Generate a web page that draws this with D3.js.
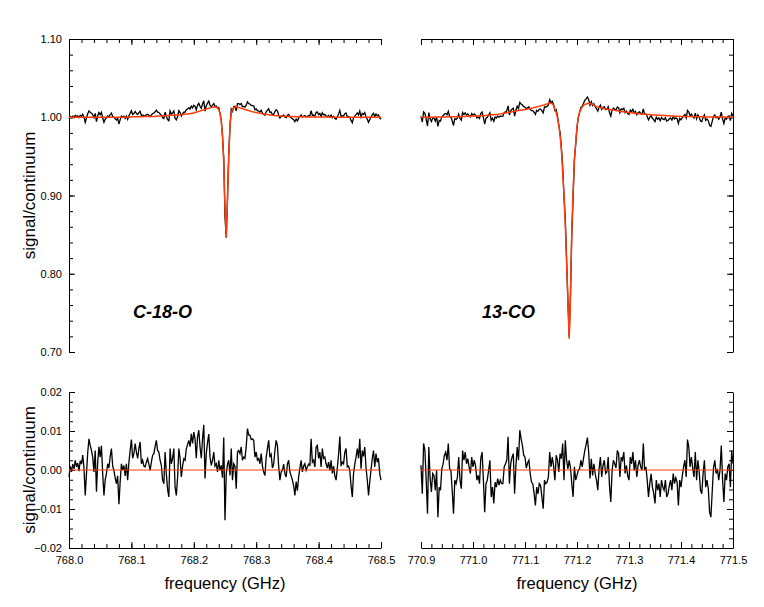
<!DOCTYPE html>
<html><head><meta charset="utf-8">
<script src="https://cdn.jsdelivr.net/npm/d3@7"></script>
<style>
body{margin:0;background:#fff}
svg{display:block}
text{font-family:"Liberation Sans",Arial,Helvetica,sans-serif;fill:#000}
</style>
</head><body>
<svg id="c" width="764" height="607"></svg>
<script>
// ---------------- DATA ----------------
// Channel grids (uniform spectrometer channels)
const leftStart = 768.000, leftStep = 0.002, leftCount = 251;
const rightStart = 770.900, rightStep = 0.0025, rightCount = 241;

// Fitted model (signal/continuum), one value per channel — C-18-O panel
const modelLeft = [
1,1,1,1,1,1,1,1,1,1, 1,1,1,1,1,1,1,1,1,1, 1,1,1,1,1,1,1,1,1,1, 1,1,1,1,1,1,1,1,1,1, 1,1,1,1,1,1,1,1,1,1,
1.0005,1.0005,1.0005,1.0005,1.0005,1.0005,1.0005,1.0005,1.0005,1.0005,
1.001,1.001,1.001,1.001,1.001,1.001,1.001,1.001,1.001,1.001,
1.0015,1.0015,1.0015,1.0015,1.0015, 1.002,1.002,1.002,1.002,1.002,
1.0025,1.0025,1.0025,1.0025,1.0025, 1.003,1.003,1.003,1.003,1.003,
1.0035,1.0035,1.0035, 1.004,1.004,1.004, 1.0045,1.0045, 1.005,1.005,
1.0055,1.006,1.0065,1.007,1.0075,1.008,1.0085,1.009,1.0095,1.010,
1.0105,1.011,1.0115,1.012,1.0123,1.0127,1.013,1.013,1.0128,1.012,
1.010,1.005,0.995,0.977,0.940,0.885,0.847,0.895,0.950,0.990,
1.005,1.010,1.012,1.013,1.013,1.0128,1.0125,1.012,1.0115,1.011,
1.0105,1.010,1.0095,1.009,1.0085,1.008,1.0075,1.007,1.0067,1.0063,
1.006,1.0057,1.0053,1.005,1.0047,1.0045,1.0042,1.004,1.0037,1.0035,
1.0032,1.003,1.0028,1.0026,1.0024,1.0022,1.002,1.0019,1.0018,1.0017,
1.0016,1.0015,1.0014,1.0013,1.0012,1.0011,1.001,1.001,1.0009,1.0009,
1.0008,1.0008,1.0007,1.0007,1.0006,1.0005,1.0005,1.0005,1.0005,1.0005,
1.0004,1.0004,1.0004,1.0004,1.0004,1.0003,1.0003,1.0003,1.0003,1.0003,
1.0002,1.0002,1.0002,1.0002,1.0002,1.0002,1.0002,1.0002,1.0002,1.0002,
1.0001,1.0001,1.0001,1.0001,1.0001,1.0001,1.0001,1.0001,1.0001,1.0001,
1,1,1,1,1,1,1,1,1,1, 1,1,1,1,1,1,1,1,1,1, 1,1,1,1,1,1,1,1,1,1, 1
];

// Fitted model — 13-CO panel
const modelRight = [
1,1,1,1,1,1,1,1,1,1,
1.0003,1.0003,1.0003,1.0003,1.0003,1.0003,1.0003,1.0003,1.0003,1.0003,
1.0007,1.0007,1.0007,1.0007,1.0007,1.0007,1.0007,1.0007,1.0007,1.0007,
1.001,1.001,1.001,1.001,1.001, 1.0013,1.0013,1.0013,1.0013,1.0013,
1.0017,1.0017,1.0017,1.0017,1.0017, 1.002,1.002,1.002,1.002,1.002,
1.0024,1.0026,1.0028,1.003,1.0031,1.0032,1.0033,1.0034,1.0035,1.0038,
1.004,1.0043,1.0046,1.0049,1.0052,1.0055,1.0058,1.0061,1.0064,1.0067,
1.007,1.0073,1.0076,1.0079,1.0082,1.0085,1.0088,1.009,1.0093,1.0096,
1.0098,1.010,1.0104,1.0108,1.0112,1.0116,1.012,1.0124,1.0128,1.0132,
1.0136,1.014,1.0145,1.015,1.0155,1.016,1.0165,1.017,1.0175,1.0178,
1.018,1.017,1.015,1.011,1.006,0.999,0.990,0.976,0.958,0.930,
0.900,0.862,0.815,0.765,0.717,0.775,0.855,0.905,0.945,0.968,
0.988,1.000,1.006,1.010,1.013,1.015,1.0165,1.017,1.0175,1.0178,
1.0175,1.017,1.0163,1.0155,1.0145,1.0135,1.013,1.0126,1.0122,1.0118,
1.0114,1.011,1.0108,1.0105,1.0102,1.010,1.0097,1.0094,1.0091,1.0088,
1.0085,1.0082,1.0079,1.0076,1.0074,1.0071,1.0069,1.0067,1.0065,1.0063,
1.0061,1.0059,1.0057,1.0055,1.0053,1.0051,1.0049,1.0047,1.0045,1.0043,
1.0041,1.004,1.0039,1.0037,1.0036,1.0035,1.0034,1.0033,1.0031,1.003,
1.0029,1.0028,1.0027,1.0026,1.0025,1.0024,1.0023,1.0022,1.0021,1.002,
1.0019,1.0018,1.0017,1.0016,1.0015,1.0014,1.0014,1.0013,1.0012,1.0012,
1.0011,1.0011,1.001,1.001,1.0009,1.0009,1.0008,1.0008,1.0008,1.0007,
1.0007,1.0007,1.0006,1.0006,1.0006,1.0005,1.0005,1.0005,1.0005,1.0004,
1.0004,1.0004,1.0004,1.0004,1.0003,1.0003,1.0003,1.0003,1.0003,1.0002,
1.0002,1.0002,1.0002,1.0002,1.0001,1.0001,1.0001,1.0001,1.0001,1.0001,
1
];

// Residuals (data - model), in units of 1e-3 — C-18-O panel
const residLeftMilli = [
-1.8,1.0,-0.5,1.5,0.3,2.5,0.8,1.8,-0.3,2.4,
1.5,3.8,0.5,-6.5,-1.0,4.5,8.0,6.3,5.0,3.3,
-0.5,5.0,-5.6,2.0,6.0,3.3,6.2,-1.0,-6.5,-2.5,
-0.9,1.6,0.5,3.5,5.5,1.0,-0.1,-2.0,-3.5,-1.5,
-8.8,-3.0,1.6,-0.1,1.2,-1.5,1.6,-2.6,2.0,5.0,
7.8,3.0,4.2,6.8,4.6,3.0,5.5,7.2,1.6,2.5,
1.0,0.8,2.0,2.9,1.5,-0.1,2.0,3.8,4.2,6.0,
7.6,5.0,4.6,2.5,1.2,-2.6,-3.5,4.6,-1.0,-5.0,
-6.9,5.5,1.6,3.0,5.5,-4.4,-6.5,-2.0,5.5,3.0,
-1.8,1.0,2.9,2.5,5.5,6.5,7.6,6.0,9.3,6.8,
9.7,8.0,3.0,8.5,10.2,5.9,3.0,8.0,11.6,-2.2,
4.2,7.0,9.2,3.3,1.2,2.5,4.6,1.0,1.6,-0.5,
2.5,-0.1,1.2,-2.0,8.3,-12.9,-1.0,1.5,2.5,-1.4,
5.5,-2.6,1.6,1.0,-4.8,4.6,5.0,4.2,5.9,2.5,
3.3,3.0,6.0,10.6,9.0,8.9,7.8,8.0,7.6,3.3,
4.6,2.5,2.9,1.6,4.2,1.0,-0.5,-1.4,3.3,5.5,
7.6,3.3,4.0,0.5,1.5,5.0,7.6,6.3,1.0,-2.6,
-0.5,-0.1,1.5,-1.0,-1.8,1.5,2.5,-0.5,-1.5,-2.6,
-4.0,-6.5,-3.0,-5.3,-1.8,0.5,2.5,-0.5,1.0,1.6,
-0.1,0.8,1.5,1.2,8.0,2.0,2.5,0.8,5.9,6.3,
3.0,4.6,0.8,5.5,3.0,3.3,1.6,0.5,2.0,-0.1,
2.5,-0.9,1.0,-1.5,-2.6,0.5,4.0,8.6,1.0,2.0,
1.6,4.5,5.5,0.8,1.0,-0.1,-4.0,-6.9,-0.9,1.5,
3.3,5.5,3.0,8.0,0.3,5.0,3.5,5.9,0.5,-2.5,
-6.5,-3.0,0.0,3.0,5.0,0.8,4.2,2.0,3.0,-1.0,
-2.6
];

// Residuals (data - model), in units of 1e-3 — 13-CO panel
const residRightMilli = [
1.2,-6.1,6.8,5.0,-2.6,-11.2,5.9,-2.0,-5.6,-0.9,
-1.4,-5.2,-0.1,-12.1,-4.4,-5.2,0.3,1.5,3.8,4.6,
2.5,6.8,0.3,-0.1,-5.2,-11.2,-2.6,-3.5,-1.8,3.3,
-2.6,-4.8,5.0,2.5,4.6,1.6,2.9,0.8,-0.9,3.3,
0.8,2.5,1.0,-2.6,-1.4,-3.5,3.0,4.6,-2.6,-10.8,
-3.5,-2.6,-0.1,2.5,-6.9,-4.4,-8.6,-3.1,-4.4,-2.2,
-3.9,-2.6,-3.5,-3.5,0.8,1.6,2.5,8.5,-3.5,1.6,
3.3,4.2,-6.1,1.0,5.9,2.5,10.2,8.0,6.3,3.8,
3.3,0.5,1.8,2.5,-0.9,-3.1,-3.5,-6.0,-9.1,-4.4,
-6.1,-3.5,-4.0,-6.9,-9.9,-2.6,-3.5,-3.1,-1.8,4.6,
0.8,3.3,1.0,-2.6,3.8,2.5,-0.5,4.2,2.9,6.8,
-2.6,7.6,2.5,0.3,2.5,0.5,-3.5,-6.9,0.8,-2.6,
-1.4,0.0,0.3,2.5,0.8,2.9,5.0,6.5,8.3,4.6,
-2.2,2.9,-1.4,1.6,-1.0,-2.6,-5.2,0.3,3.3,-1.8,
1.2,2.5,-0.9,-0.5,3.3,-4.0,-8.2,-0.1,2.5,1.6,
0.5,5.0,4.2,-1.8,3.3,2.5,4.6,-0.9,1.2,-1.5,
-2.6,3.3,1.6,4.6,-0.1,2.5,-1.8,1.2,2.5,0.8,
-0.1,6.8,-0.1,0.8,-2.6,-6.9,-3.5,-1.0,-4.4,-6.0,
-8.6,-2.6,-5.2,-3.5,-6.9,-2.6,-4.4,-5.2,-2.6,-6.9,
-6.1,-4.0,-2.6,-5.2,-0.9,-3.5,-2.0,-3.1,-9.1,-2.6,
-4.4,-1.5,0.8,2.5,-1.8,7.8,5.9,0.8,3.3,0.5,
-1.8,4.6,-2.6,2.5,-0.5,-5.2,-6.1,-0.9,2.5,-4.4,
-2.6,-4.8,-10.8,-12.1,-5.6,0.5,2.5,-0.9,0.3,-2.6,
-0.1,6.3,-2.6,-8.2,-0.9,-2.6,0.8,1.6,-4.4,5.0,
1.6
];

// Axis tick labels
const xTicksLeft = [768.0, 768.1, 768.2, 768.3, 768.4, 768.5];
const xTicksRight = [770.9, 771.0, 771.1, 771.2, 771.3, 771.4, 771.5];
const yTicksTop = [0.70, 0.80, 0.90, 1.00, 1.10];
const yTicksBottom = [-0.02, -0.01, 0.00, 0.01, 0.02];
const panelLabels = ["C-18-O", "13-CO"];
const xTitle = "frequency (GHz)";
const yTitle = "signal/continuum";

// ---------------- DRAW ----------------
const svg = d3.select("#c");
const MODEL = "#ff3c0a";

const xL = d3.scaleLinear().domain([768.0, 768.5]).range([69, 381]);
const xR = d3.scaleLinear().domain([770.9, 771.5]).range([421, 733]);
const yT = d3.scaleLinear().domain([0.70, 1.10]).range([352, 39]);
const yB = d3.scaleLinear().domain([-0.02, 0.02]).range([548, 392]);

function series(start, step, count, model, residMilli) {
  return d3.range(count).map(i => ({
    f: start + i * step,
    model: model[i],
    resid: residMilli[i] / 1000,
    data: model[i] + residMilli[i] / 1000
  }));
}
const sL = series(leftStart, leftStep, leftCount, modelLeft, residLeftMilli);
const sR = series(rightStart, rightStep, rightCount, modelRight, residRightMilli);

function minor(a, b, s) { const n = Math.round((b - a) / s); return d3.range(n + 1).map(k => a + k * s); }

function axis(gen, scale, transform, majors, minors, fmt, major = 6, min = 4, pad = 6) {
  const g1 = svg.append("g").attr("transform", transform)
    .call(gen(scale).tickValues(minors).tickSizeInner(-min).tickSizeOuter(0).tickFormat(""));
  g1.select(".domain").attr("stroke", "#000");
  const g2 = svg.append("g").attr("transform", transform)
    .call(gen(scale).tickValues(majors).tickSizeInner(-major).tickSizeOuter(0).tickPadding(pad)
      .tickFormat(fmt ? d3.format(fmt) : ""));
  g2.select(".domain").remove();
  g2.selectAll("text").attr("font-size", 11).attr("font-family", '"Liberation Sans",Arial,sans-serif').attr("fill", "#111");
  svg.selectAll(".tick line").attr("stroke", "#000");
}

// Top panels
axis(d3.axisLeft, yT, "translate(69,0)", yTicksTop, minor(0.70, 1.10, 0.02), ".2f", 6, 4, 7);
axis(d3.axisTop, xL, "translate(0,39)", xTicksLeft, minor(768.0, 768.5, 0.02), null);
axis(d3.axisTop, xR, "translate(0,39)", xTicksRight, minor(770.9, 771.5, 0.02), null);
axis(d3.axisRight, yT, "translate(733,0)", yTicksTop, minor(0.70, 1.10, 0.02), null);

// Bottom panels
axis(d3.axisLeft, yB, "translate(69,0)", yTicksBottom, minor(-0.02, 0.02, 0.0025), ".2f", 6, 4, 7);
axis(d3.axisRight, yB, "translate(733,0)", yTicksBottom, minor(-0.02, 0.02, 0.0025), null);
axis(d3.axisBottom, xL, "translate(0,548)", xTicksLeft, minor(768.0, 768.5, 0.02), ".1f", 6, 4, 8);
axis(d3.axisBottom, xR, "translate(0,548)", xTicksRight, minor(770.9, 771.5, 0.02), ".1f", 6, 4, 8);

function line(x, y, key) { return d3.line().x(d => x(d.f)).y(d => y(d[key])); }

// spectra
svg.append("path").datum(sL).attr("d", line(xL, yT, "data")).attr("fill", "none").attr("stroke", "#000").attr("stroke-width", 1.3);
svg.append("path").datum(sR).attr("d", line(xR, yT, "data")).attr("fill", "none").attr("stroke", "#000").attr("stroke-width", 1.3);
svg.append("path").datum(sL).attr("d", line(xL, yT, "model")).attr("fill", "none").attr("stroke", MODEL).attr("stroke-width", 1.5);
svg.append("path").datum(sR).attr("d", line(xR, yT, "model")).attr("fill", "none").attr("stroke", MODEL).attr("stroke-width", 1.5);

// residuals
svg.append("path").datum(sL).attr("d", line(xL, yB, "resid")).attr("fill", "none").attr("stroke", "#000").attr("stroke-width", 1.3);
svg.append("path").datum(sR).attr("d", line(xR, yB, "resid")).attr("fill", "none").attr("stroke", "#000").attr("stroke-width", 1.3);
svg.append("line").attr("x1", xL(768.0)).attr("x2", xL(768.5)).attr("y1", yB(0)).attr("y2", yB(0)).attr("stroke", MODEL).attr("stroke-width", 1.2);
svg.append("line").attr("x1", xR(770.9)).attr("x2", xR(771.5)).attr("y1", yB(0)).attr("y2", yB(0)).attr("stroke", MODEL).attr("stroke-width", 1.2);

// titles
svg.append("text").attr("transform", "translate(35,195.5) rotate(-90)").attr("text-anchor", "middle").attr("font-size", 17).text(yTitle);
svg.append("text").attr("transform", "translate(35,470) rotate(-90)").attr("text-anchor", "middle").attr("font-size", 17).text(yTitle);
svg.append("text").attr("x", 225).attr("y", 589).attr("text-anchor", "middle").attr("font-size", 16.5).text(xTitle);
svg.append("text").attr("x", 577).attr("y", 589).attr("text-anchor", "middle").attr("font-size", 16.5).text(xTitle);

svg.append("text").attr("x", 133).attr("y", 318).attr("font-size", 18).attr("font-weight", "bold").attr("font-style", "italic").text(panelLabels[0]);
svg.append("text").attr("x", 482).attr("y", 318).attr("font-size", 18).attr("font-weight", "bold").attr("font-style", "italic").text(panelLabels[1]);
</script>
</body></html>
